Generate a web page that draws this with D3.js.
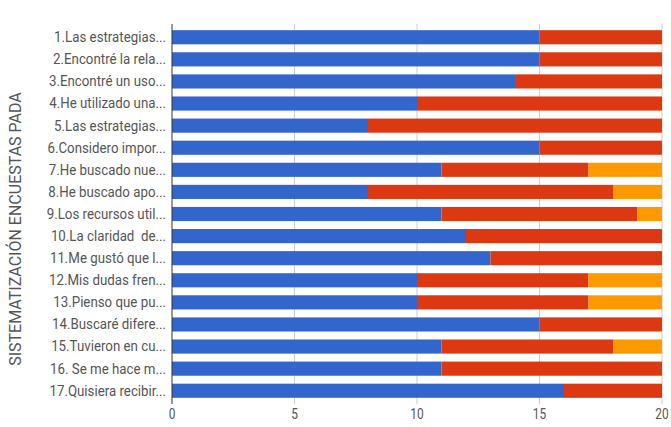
<!DOCTYPE html>
<html>
<head>
<meta charset="utf-8">
<script src="https://cdn.jsdelivr.net/npm/d3@7"></script>
<style>
  body { margin: 0; background: #fff; }
  text { font-family: Roboto, "Noto Sans", sans-serif; white-space: pre; }
</style>
</head>
<body>
<svg id="chart" width="671" height="427"></svg>
<script>
// questions, in order top to bottom
const questions = [
  "1.Las estrategias...", "2.Encontré la rela...", "3.Encontré un uso...",
  "4.He utilizado una...", "5.Las estrategias...", "6.Considero impor...",
  "7.He buscado nue...", "8.He buscado apo...", "9.Los recursos util...",
  "10.La claridad  de...", "11.Me gustó que l...", "12.Mis dudas fren...",
  "13.Pienso que pu...", "14.Buscaré difere...", "15.Tuvieron en cu...",
  "16. Se me hace m...", "17.Quisiera recibir..."
];

// the three answer series
const serieAzul    = [15, 15, 14, 10, 8, 15, 11, 8, 11, 12, 13, 10, 10, 15, 11, 11, 16];
const serieRoja    = [5, 5, 6, 10, 12, 5, 6, 10, 8, 8, 7, 7, 7, 5, 7, 9, 4];
const serieNaranja = [0, 0, 0, 0, 0, 0, 3, 2, 1, 0, 0, 3, 3, 0, 2, 0, 0];

const xTicks = [0, 5, 10, 15, 20];
const seriesColors = ["#3366cc", "#dc3912", "#ff9900"];
const yTitle = "SISTEMATIZACIÓN ENCUESTAS PADA";

const margin = { top: 24, right: 9, bottom: 23, left: 172 };
const width = 671 - margin.left - margin.right;
const height = 427 - margin.top - margin.bottom;

const svg = d3.select("#chart");
const g = svg.append("g")
  .attr("transform", "translate(" + margin.left + "," + margin.top + ")");

const rows = questions.map(function (q, i) {
  return { q: q, a: serieAzul[i], b: serieRoja[i], c: serieNaranja[i] };
});

const stack = d3.stack().keys(["a", "b", "c"]);
const stacked = stack(rows);

const xScale = d3.scaleLinear().domain([0, 20]).range([0, width]);
const yScale = d3.scaleBand().domain(questions).range([0, height])
  .paddingInner(0.36).paddingOuter(0.28);

// gridlines
g.append("g")
  .selectAll("line")
  .data(xTicks.slice(1))
  .join("line")
  .attr("x1", d => xScale(d))
  .attr("x2", d => xScale(d))
  .attr("y1", 0)
  .attr("y2", height)
  .attr("stroke", "#cccccc")
  .attr("stroke-width", 1);

// bars
g.selectAll(".serie")
  .data(stacked)
  .join("g")
  .attr("class", "serie")
  .attr("fill", (d, i) => seriesColors[i])
  .selectAll("rect")
  .data(d => d)
  .join("rect")
  .attr("x", d => xScale(d[0]))
  .attr("y", d => yScale(d.data.q))
  .attr("width", d => xScale(d[1]) - xScale(d[0]))
  .attr("height", yScale.bandwidth());

// baseline at zero
g.append("line")
  .attr("x1", xScale(0)).attr("x2", xScale(0))
  .attr("y1", 0).attr("y2", height)
  .attr("stroke", "#333333")
  .attr("stroke-width", 1);

// x axis labels
g.append("g")
  .attr("transform", "translate(0," + height + ")")
  .selectAll("text")
  .data(xTicks)
  .join("text")
  .attr("x", d => xScale(d))
  .attr("y", 15)
  .attr("text-anchor", "middle")
  .attr("font-size", 14)
  .attr("fill", "#555555")
  .attr("transform", d => "translate(" + xScale(d) + ",0) scale(0.85,1) translate(" + (-xScale(d)) + ",0)")
  .text(d => d);

// y category labels
g.append("g")
  .selectAll("text")
  .data(questions)
  .join("text")
  .attr("x", 0)
  .attr("y", d => yScale(d) + yScale.bandwidth() / 2)
  .attr("dy", "0.35em")
  .attr("text-anchor", "end")
  .attr("font-size", 14)
  .attr("fill", "#555555")
  .attr("transform", "translate(-6,0) scale(0.95,1)")
  .text(d => d);

// y axis title
svg.append("text")
  .attr("transform", "translate(21,229) rotate(-90)")
  .attr("text-anchor", "middle")
  .attr("font-size", 16)
  .attr("fill", "#555555")
  .text(yTitle);
</script>
</body>
</html>
